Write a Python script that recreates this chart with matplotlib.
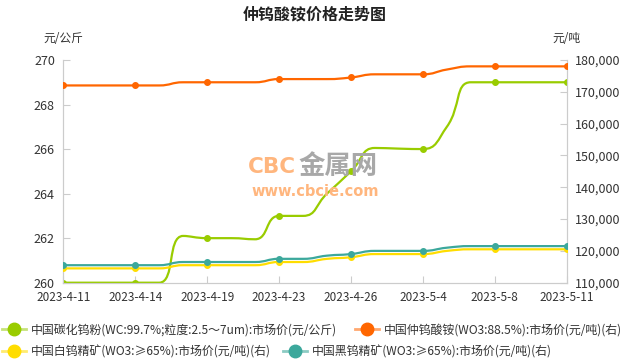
import numpy as np
import matplotlib
matplotlib.use("Agg")
import matplotlib.pyplot as plt
from matplotlib.path import Path
from matplotlib.patches import PathPatch
from matplotlib.lines import Line2D
from matplotlib.ticker import FuncFormatter, MultipleLocator

plt.rcParams["font.family"] = ["Noto Sans CJK SC", "DejaVu Sans"]

dates = [
    "2023-4-11", "2023-4-12", "2023-4-13", "2023-4-14", "2023-4-17", "2023-4-18",
    "2023-4-19", "2023-4-20", "2023-4-21", "2023-4-23", "2023-4-24", "2023-4-25",
    "2023-4-26", "2023-4-27", "2023-4-28", "2023-5-4", "2023-5-5", "2023-5-6",
    "2023-5-8", "2023-5-9", "2023-5-10", "2023-5-11",
]
# left axis, yuan/kg
wc_powder = [260, 260, 260, 260, 260, 262.1, 262, 262, 261.95, 263, 263, 264,
             265, 266.05, 266.02, 266, 267, 269, 269, 269, 269, 269]
# right axis, yuan/ton
apt = [172000, 172000, 172000, 172000, 172000, 173000, 173000, 173000, 173000,
       174000, 174000, 174000, 174500, 175500, 175500, 175500, 177000, 178000,
       178000, 178000, 178000, 178000]
scheelite = [114500, 114500, 114500, 114500, 114500, 115500, 115500, 115500,
             115500, 116500, 116500, 117500, 118000, 119000, 119000, 119000,
             120000, 120500, 120500, 120500, 120500, 120500]
wolframite = [115500, 115500, 115500, 115500, 115500, 116500, 116500, 116500,
              116500, 117500, 117500, 118500, 119000, 120000, 120000, 120000,
              121000, 121500, 121500, 121500, 121500, 121500]

names = [
    "中国碳化钨粉(WC:99.7%;粒度:2.5～7um):市场价(元/公斤)",
    "中国仲钨酸铵(WO3:88.5%):市场价(元/吨)(右)",
    "中国白钨精矿(WO3:≥65%):市场价(元/吨)(右)",
    "中国黑钨精矿(WO3:≥65%):市场价(元/吨)(右)",
]
colors = ["#99cc00", "#ff6600", "#ffdd00", "#3ca89c"]
light = ["#c6e27a", "#ffa870", "#ffeb70", "#8ccbc3"]


def smooth_path(ax, xs, ys, smooth=0.5):
    # echarts-style bezier smoothing, done in pixel space
    pts = ax.transData.transform(np.column_stack([xs, ys]))
    n = len(pts)
    verts = [pts[0]]
    codes = [Path.MOVETO]
    cp0 = pts[0].copy()
    prev = pts[0]
    for k in range(1, n):
        x, y = pts[k]
        px, py = prev
        if k >= n - 1:
            cp1 = np.array([x, y])
            nxt_cp0 = np.array([x, y])
        else:
            nx, ny = pts[k + 1]
            vx, vy = nx - px, ny - py
            lp = np.hypot(x - px, y - py)
            ln = np.hypot(nx - x, ny - y)
            r = ln / (ln + lp)
            ncx = x + vx * smooth * r
            ncy = y + vy * smooth * r
            ncx = max(min(ncx, max(nx, x)), min(nx, x))
            ncy = max(min(ncy, max(ny, y)), min(ny, y))
            vx, vy = ncx - x, ncy - y
            c1x = x - vx * lp / ln
            c1y = y - vy * lp / ln
            c1x = max(min(c1x, max(px, x)), min(px, x))
            c1y = max(min(c1y, max(py, y)), min(py, y))
            vx, vy = x - c1x, y - c1y
            nxt_cp0 = np.array([x + vx * ln / lp, y + vy * ln / lp])
            cp1 = np.array([c1x, c1y])
        verts += [cp0, cp1, np.array([x, y])]
        codes += [Path.CURVE4] * 3
        cp0 = nxt_cp0
        prev = pts[k]
    verts = ax.transData.inverted().transform(np.array(verts))
    return Path(verts, codes)


fig = plt.figure(figsize=(6.3, 3.6), dpi=100)
ax = fig.add_axes([63.3 / 630, 1 - 282.7 / 360, (566.7 - 63.3) / 630, (282.7 - 60) / 360])
ax2 = ax.twinx()

x = np.arange(len(dates))
ax.set_xlim(0, len(dates) - 1)
ax.set_ylim(260, 270)
ax2.set_ylim(110000, 180000)
ax.yaxis.set_major_locator(MultipleLocator(2))
ax2.yaxis.set_major_locator(MultipleLocator(10000))
ax2.yaxis.set_major_formatter(FuncFormatter(lambda v, p: f"{int(v):,}"))
ax.set_xticks(x[::3])
ax.set_xticklabels(dates[::3])

for a in (ax, ax2):
    for s in a.spines.values():
        s.set_color("#cccccc")
    a.spines["top"].set_visible(False)
    a.tick_params(direction="in", length=5, color="#cccccc", labelcolor="#333333",
                  labelsize=9, pad=6)
ax.tick_params(axis="x", labelsize=8.5, pad=6)

series = [(ax, wc_powder), (ax2, apt), (ax2, scheelite), (ax2, wolframite)]
for i, (a, vals) in enumerate(series):
    p = smooth_path(a, x, vals)
    a.add_patch(PathPatch(p, fill=False, edgecolor=colors[i], lw=1.6,
                          capstyle="round", joinstyle="round", zorder=3 + i))
    a.plot(x[::3], np.array(vals)[::3], "o", ms=4, color=colors[i], zorder=3 + i)

# watermark
fig.text(248 / 630, 1 - 167 / 360, "CBC", fontsize=15.5, weight="bold",
         family=["DejaVu Sans"], color="#ffb67e", ha="left", va="center")
fig.text(298 / 630, 1 - 166 / 360, "金属网", fontsize=19, weight="bold",
         color="#a8a8a8", ha="left", va="center")
fig.text(315 / 630, 1 - 191 / 360, "www.cbcie.com", fontsize=10.5, weight="bold",
         family=["DejaVu Sans"], color="#ffb67e", ha="center", va="center")

fig.text(0.5, 1 - 15 / 360, "仲钨酸铵价格走势图", fontsize=11.5, weight="bold",
         ha="center", va="center", color="#222222")
fig.text(63 / 630, 1 - 38 / 360, "元/公斤", fontsize=8.5, color="#333333",
         ha="center", va="center")
fig.text(566 / 630, 1 - 38 / 360, "元/吨", fontsize=8.5, color="#333333",
         ha="center", va="center")

handles = [Line2D([], [], color=light[i], lw=2, marker="o", ms=9,
                  markerfacecolor=colors[i], markeredgecolor=colors[i])
           for i in range(4)]
for row, yy, gap in ((0, 330, 1.55), (1, 352, 1.05)):
    leg = fig.legend(handles[2 * row:2 * row + 2], names[2 * row:2 * row + 2],
                     loc="center left", bbox_to_anchor=(2 / 630, 1 - yy / 360),
                     ncol=2, frameon=False, fontsize=8.6, borderpad=0,
                     borderaxespad=0, handlelength=2.0, handletextpad=0.4,
                     columnspacing=gap)
    for t in leg.get_texts():
        t.set_color("#333333")

fig.savefig("out.png", dpi=100)
